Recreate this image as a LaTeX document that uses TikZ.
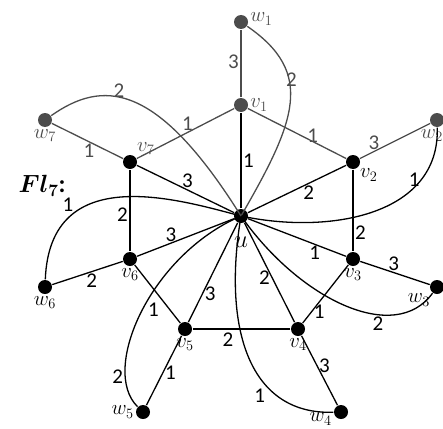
\documentclass[tikz,border=0pt]{standalone}
\usepackage{amsmath}
\usepackage{amssymb}
\usepackage{bm}
\usepackage{fontspec}
\setmainfont{Carlito}
\colorlet{faded}{black!70}

\begin{document}
\begin{tikzpicture}[x=1pt,y=-1pt,line width=1.3pt,
    font=\fontsize{21}{24}\selectfont,
    dot/.style={circle,fill=black,inner sep=0pt,minimum size=14pt,label distance=-4pt},
    fdot/.style={dot,fill=faded},
    every label/.style={inner sep=1pt},
    wt/.style={inner sep=1.5pt}]
    \useasboundingbox (0,0) rectangle (443,428);
    % centre and rim
    \node[dot] (u) at (241,216) {};
    \node[font=\fontsize{30}{32}\selectfont] (ulab) at (241,242) {$u$};
    \node[fdot,label={[faded]right:$v_1$}] (v1) at (241,105) {};
    \node[dot,label={below right:$v_2$}] (v2) at (353,162) {};
    \node[dot,label={below:$v_3$}] (v3) at (353,259) {};
    \node[dot,label={below:$v_4$}] (v4) at (298,329) {};
    \node[dot,label={below:$v_5$}] (v5) at (185,329) {};
    \node[dot,label={below:$v_6$}] (v6) at (130,259) {};
    \node[dot,label={[faded]above right:$v_7$}] (v7) at (130,162) {};
    % pendant vertices
    \node[fdot,label={[faded,yshift=3pt]right:$w_1$}] (w1) at (241,22) {};
    \node[fdot,label={[faded,xshift=-5pt]below:$w_2$}] (w2) at (437,120) {};
    \node[dot,label={below left:$w_3$}] (w3) at (437,287) {};
    \node[dot,label={[yshift=-7pt]left:$w_4$}] (w4) at (341,412) {};
    \node[dot,label={left:$w_5$}] (w5) at (143,412) {};
    \node[dot,label={below:$w_6$}] (w6) at (45,287) {};
    \node[fdot,label={[faded]below:$w_7$}] (w7) at (45,120) {};
    \node[font=\fontsize{25}{28}\selectfont] (name) at (42,186) {$\boldsymbol{Fl_7}$\textbf{:}};

    % spokes
    \draw (u) -- node[wt,pos=0.5,right] {1} (v1);
    \draw (u) -- node[wt,pos=0.62,below] {2} (v2);
    \draw (u) -- node[wt,pos=0.68,below] {1} (v3);
    \draw (u) -- node[wt,pos=0.55,left] {2} (v4);
    \draw (u) -- node[wt,pos=0.71,right] {3} (v5);
    \draw (u) -- node[wt,pos=0.65,above=-1pt] {3} (v6);
    \draw (u) -- node[wt,pos=0.48,above] {3} (v7);

    % rim
    \draw[faded] (v1) -- node[wt,pos=0.66,above=-3pt] {1} (v2);
    \draw (v2) -- node[wt,pos=0.77,right] {2} (v3);
    \draw (v3) -- node[wt,pos=0.8,right] {1} (v4);
    \draw (v4) -- node[wt,pos=0.64,below=2pt] {2} (v5);
    \draw (v5) -- node[wt,pos=0.23,left=9pt] {1} (v6);
    \draw (v6) -- node[wt,pos=0.45,left] {2} (v7);
    \draw[faded] (v7) -- node[wt,pos=0.52,above] {1} (v1);

    % pendant edges
    \draw[faded] (v1) -- node[wt,pos=0.52,left] {3} (w1);
    \draw[faded] (v2) -- node[wt,pos=0.2,above] {3} (w2);
    \draw (v3) -- node[wt,pos=0.48,above] {3} (w3);
    \draw (v4) -- node[wt,pos=0.43,right] {3} (w4);
    \draw (v5) -- node[wt,pos=0.53,right] {1} (w5);
    \draw (v6) -- node[wt,pos=0.44,below] {2} (w6);
    \draw[faded] (v7) -- node[wt,pos=0.48,below] {1} (w7);

    % curved edges from the centre
    \draw[faded] (u.center) .. controls (296,121) and (315,73) .. node[wt,pos=0.64,right=-5pt] {2} (w1);
    \draw (u.center) .. controls (330,235) and (440,215) .. node[wt,pos=0.76,left] {1} (w2);
    \draw (u.center) .. controls (300,300) and (395,345) .. node[wt,pos=0.66,below] {2} (w3);
    \draw (u.center) .. controls (222,330) and (250,415) .. node[wt,pos=0.66,below left] {1} (w4);
    \draw (u.center) .. controls (150,255) and (100,370) .. node[wt,pos=0.8,left] {2} (w5);
    \draw (u.center) .. controls (180,200) and (50,160) .. node[wt,pos=0.72,above left=-1pt] {1} (w6);
    \draw[faded] (w7) .. controls (102,80) and (156,80) .. node[wt,pos=0.42,above=-3pt] {2} (u.center);
\end{tikzpicture}
\end{document}
